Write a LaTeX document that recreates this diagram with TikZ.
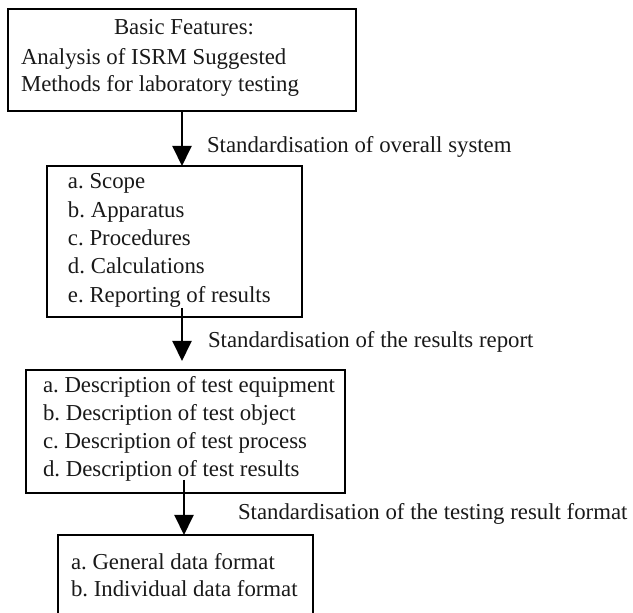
\documentclass[tikz,border=0pt]{standalone}
\usepackage{fontspec}
\setmainfont{Liberation Serif}
\usetikzlibrary{arrows.meta}
\frenchspacing
\begin{document}
\begin{tikzpicture}[x=0.5pt,y=-0.5pt,
  every node/.style={inner sep=0pt,outer sep=0pt,font=\fontsize{11.4pt}{14pt}\selectfont\frenchspacing},
  boxnode/.style={draw=black,line width=1pt,rectangle,anchor=north west},
  txt/.style={anchor=base west,text=black!90},
  arr/.style={line width=1pt,-{Triangle[length=10pt,width=9.5pt]}}]
\clip (0,0) rectangle (633,613);
% boxes
\node[boxnode,minimum width=174pt,minimum height=51pt] (box1) at (8,9) {};
\node[boxnode,minimum width=127.5pt,minimum height=75.5pt] (box2) at (47,166) {};
\node[boxnode,minimum width=159.5pt,minimum height=61.5pt] (box3) at (26,370) {};
\node[boxnode,minimum width=127.5pt,minimum height=52.5pt] (box4) at (58,535) {};
% box 1 text
\node[anchor=base,text=black!90] (t1a) at (184,35) {Basic Features:};
\node[txt] (t1b) at (21,65) {Analysis of ISRM Suggested};
\node[txt] (t1c) at (21,92) {Methods for laboratory testing};
% box 2 text
\node[txt] (t2a) at (68,189) {a. Scope};
\node[txt] (t2b) at (68,218) {b. Apparatus};
\node[txt] (t2c) at (68,246) {c. Procedures};
\node[txt] (t2d) at (68,274) {d. Calculations};
\node[txt] (t2e) at (68,303) {e. Reporting of results};
% box 3 text
\node[txt] (t3a) at (43,393) {a. Description of test equipment};
\node[txt] (t3b) at (43,421) {b. Description of test object};
\node[txt] (t3c) at (43,449) {c. Description of test process};
\node[txt] (t3d) at (43,477) {d. Description of test results};
% box 4 text
\node[txt] (t4a) at (71,570) {a. General data format};
\node[txt] (t4b) at (71,597) {b. Individual data format};
% arrow labels
\node[txt] (l1) at (207,153) {Standardisation of overall system};
\node[txt] (l2) at (208,348) {Standardisation of the results report};
\node[txt] (l3) at (238,520) {Standardisation of the testing result format};
% arrows
\coordinate (a2s) at (182,308);
\coordinate (a2e) at (182,361);
\coordinate (a3s) at (184,480);
\draw[arr] (box1.south) -- (box1.south |- box2.north);
\draw[arr] (a2s) -- (a2e);
\draw[arr] (a3s) -- (a3s |- box4.north);
\end{tikzpicture}
\end{document}
